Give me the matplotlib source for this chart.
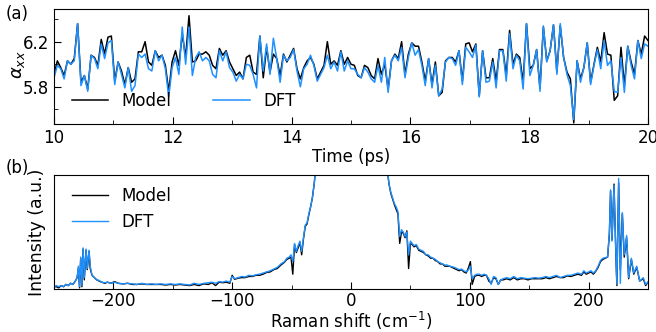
import numpy as np
import matplotlib
matplotlib.use('Agg')
import matplotlib.pyplot as plt
from matplotlib.ticker import MultipleLocator

plt.rcParams['font.family'] = ['DejaVu Sans']
plt.rcParams['font.size'] = 12

BLUE = '#1E90FF'

# -----------------------------
# (a) polarizability time series, 10-20 ps
# -----------------------------
alpha_dft = [
    5.88, 5.99, 5.96, 5.87, 6.03, 6.00, 6.03, 6.36, 5.81, 5.90, 5.76, 6.08, 6.05, 5.96, 6.18,
    6.05, 6.19, 6.21, 5.82, 6.02, 5.91, 5.79, 5.97, 5.76, 5.81, 6.09, 6.06, 6.09, 5.96, 5.94,
    6.12, 6.03, 6.08, 5.96, 5.71, 5.97, 6.06, 5.91, 6.33, 6.00, 6.33, 5.90, 6.06, 6.11,
    6.03, 6.06, 6.03, 5.91, 5.88, 6.12, 6.03, 6.11, 5.97, 5.93, 5.85, 5.91, 5.87, 6.00, 5.99,
    5.91, 5.79, 6.25, 5.94, 6.18, 5.91, 6.23, 6.05, 5.84, 6.08, 6.03, 6.06, 6.13, 5.94, 5.80,
    5.96, 6.00, 6.08, 5.99, 5.85, 5.91, 5.97, 6.08, 5.96, 6.02, 5.94, 6.11, 5.94,
    6.03, 5.96, 5.96, 5.91, 5.88, 5.97, 5.93, 5.87, 5.84, 5.99, 5.84, 6.06, 5.75, 6.03, 6.08,
    6.03, 6.15, 5.88, 6.06, 6.19, 6.08, 6.13, 5.99, 5.81, 6.05, 5.79, 5.99, 5.72, 5.78, 6.02,
    6.06, 6.05, 5.99, 6.12, 5.82, 6.15, 6.11, 6.06, 6.17, 5.71, 6.12, 5.84, 5.85, 6.02, 5.79,
    6.12,
    6.12, 5.85, 6.27, 5.96, 6.08, 6.03, 5.78, 6.36, 5.90, 5.99, 6.13, 5.76, 6.34, 6.02, 6.12,
    6.35, 5.91, 6.36, 6.06, 5.91, 5.81, 5.51, 6.03, 5.84, 5.97, 6.19, 5.82, 5.99, 6.13, 5.96,
    6.21, 5.99, 6.03, 5.76, 5.75, 6.06, 5.75, 6.16, 5.99, 5.87, 6.21, 6.05, 6.18, 6.16,
]
alpha_model = [
    5.91, 6.03, 5.97, 5.90, 6.03, 6.00, 6.05, 6.36, 5.84, 5.90, 5.78, 6.08, 6.06, 5.99, 6.22,
    6.09, 6.24, 6.25, 5.85, 6.02, 5.94, 5.82, 5.97, 5.84, 5.87, 6.11, 6.11, 6.20, 6.02, 5.99,
    6.12, 6.06, 6.08, 5.99, 5.76, 6.02, 6.12, 5.99, 6.27, 6.06, 6.43, 6.02, 6.03, 6.09,
    6.09, 6.11, 6.08, 5.99, 5.96, 6.14, 6.08, 6.12, 6.02, 5.96, 5.90, 5.93, 5.87, 6.06, 6.08,
    5.93, 5.91, 6.25, 5.88, 6.15, 5.93, 6.09, 6.05, 5.90, 6.09, 6.02, 6.08, 6.14, 5.96, 5.87,
    5.97, 6.03, 6.06, 6.00, 5.87, 5.93, 5.99, 6.20, 6.00, 6.03, 5.99, 6.12, 6.00,
    6.06, 6.00, 5.99, 5.90, 5.88, 5.99, 5.97, 5.90, 5.87, 6.05, 5.91, 6.00, 5.78, 6.03, 6.09,
    6.05, 6.20, 5.91, 6.09, 6.19, 6.16, 6.16, 6.02, 5.85, 6.05, 5.82, 6.02, 5.72, 5.75, 6.03,
    6.06, 6.06, 6.02, 6.12, 5.85, 6.18, 6.19, 6.11, 6.18, 5.72, 6.12, 5.88, 5.88, 6.05, 5.85,
    6.13,
    6.13, 5.90, 6.30, 6.00, 6.09, 6.06, 5.84, 6.36, 5.96, 5.99, 6.13, 5.79, 6.33, 6.03, 6.12,
    6.35, 5.93, 6.34, 6.06, 5.93, 5.87, 5.48, 6.03, 5.87, 5.97, 6.19, 5.84, 6.00, 6.15, 6.02,
    6.28, 6.09, 6.08, 5.68, 5.72, 6.15, 5.81, 6.16, 6.02, 5.91, 6.21, 6.09, 6.25, 6.21,
]
time_ps = np.linspace(10, 20, len(alpha_dft))

# -----------------------------
# (b) Raman spectrum
# -----------------------------
shift = [
    -250, -248, -246, -244, -242, -240, -238, -236, -234, -232, -230.5, -229.5, -228.5, -227.5,
    -226.5, -225.5, -224.5, -223, -222, -220.5, -219.5, -218, -216, -214, -212, -210, -207,
    -205, -202, -199, -196, -192, -188, -184, -180, -176, -172, -168, -164, -160, -156, -152,
    -148, -144, -140, -136, -132, -128, -124, -120, -117, -114, -111, -108, -105, -102, -100,
    -98, -95, -92, -89, -86, -83, -80, -77, -74, -71, -68, -65, -62, -59, -56, -54, -52,
    -50.5, -49, -47.5, -46, -44.5, -43, -41.5, -40, -38.5, -37, -35.5, -34, -32.5, -31,
    -29.5, -28, -25, -20, 0, 20, 25, 28.5, 30.5, 32, 33.5, 35, 36.5, 38, 39.5, 41, 42.5, 44,
    45.5, 47, 48.5, 50, 51.5, 53, 55, 57, 59, 61, 63, 65, 67, 69, 71, 73, 75, 77, 79, 81, 83,
    85, 87, 89, 91, 93, 95, 97, 99, 100.5, 102, 104, 106, 108, 110, 112, 114, 116, 118, 120,
    122, 124, 126, 128, 131, 134, 137, 140, 143, 146, 149, 152, 155, 158, 161, 164, 167, 170,
    173, 176, 179, 182, 185, 188, 191, 194, 196, 198, 200, 202, 204, 206, 208, 210, 212, 214,
    216, 217.5, 218.5, 219.7, 221.4, 223, 223.8, 225.3, 226.7, 228.4, 230, 232, 233.7, 236,
    238, 240.5, 243, 246, 248, 250,
]
raman_dft = [
    0.02, 0.03, 0.02, 0.03, 0.02, 0.04, 0.03, 0.05, 0.04, 0.07, 0.10, 0.20, 0.02, 0.28,
    0.03, 0.36, 0.10, 0.35, 0.18, 0.34, 0.20, 0.12, 0.10, 0.08, 0.075, 0.06, 0.055,
    0.06, 0.05, 0.06, 0.05, 0.045, 0.05, 0.045, 0.04, 0.05, 0.04, 0.045, 0.04, 0.045, 0.04, 0.045,
    0.04, 0.045, 0.04, 0.035, 0.05, 0.04, 0.05, 0.055, 0.06, 0.05, 0.065, 0.06, 0.07, 0.06, 0.11,
    0.09, 0.10, 0.11, 0.105, 0.12, 0.115, 0.125, 0.13, 0.14, 0.15, 0.16, 0.175, 0.19, 0.22, 0.24, 0.27, 0.28,
    0.30, 0.24, 0.40, 0.33, 0.38, 0.42, 0.33, 0.45, 0.56, 0.58, 0.66, 0.72, 0.80, 0.92,
    1.08, 1.3, 1.8, 3.0, 6.0, 3.0, 1.8, 1.25, 1.05, 0.92, 0.85, 0.80, 0.75, 0.72, 0.68, 0.46, 0.52, 0.50,
    0.46, 0.50, 0.30, 0.42, 0.40, 0.38, 0.39, 0.35, 0.34, 0.33, 0.30, 0.30, 0.28, 0.27, 0.26, 0.24, 0.23, 0.22, 0.21, 0.21, 0.20,
    0.195, 0.19, 0.18, 0.17, 0.175, 0.16, 0.15, 0.17, 0.20, 0.09, 0.12, 0.13, 0.13, 0.12, 0.13, 0.12, 0.09, 0.04, 0.11,
    0.10, 0.04, 0.08, 0.09, 0.10, 0.09, 0.11, 0.09, 0.10, 0.095, 0.09, 0.095, 0.10, 0.095, 0.10, 0.11, 0.10, 0.11,
    0.12, 0.10, 0.11, 0.12, 0.12, 0.13, 0.14, 0.13, 0.16, 0.14, 0.15, 0.16, 0.14, 0.16, 0.20, 0.25, 0.27, 0.275,
    0.28, 0.50, 0.87, 0.42, 0.91, 0.30, 0.04, 0.97, 0.05, 0.67, 0.30, 0.47, 0.10, 0.27,
    0.14, 0.20, 0.07, 0.10, 0.04, 0.06,
]
raman_model = [
    0.02, 0.02, 0.01, 0.03, 0.02, 0.04, 0.03, 0.05, 0.04, 0.07, 0.10, 0.18, 0.01, 0.27,
    0.02, 0.35, 0.08, 0.34, 0.17, 0.33, 0.18, 0.12, 0.10, 0.08, 0.07, 0.06, 0.05,
    0.06, 0.05, 0.065, 0.05, 0.045, 0.05, 0.04, 0.04, 0.045, 0.04, 0.04, 0.04, 0.04, 0.035, 0.04,
    0.035, 0.04, 0.035, 0.03, 0.04, 0.03, 0.045, 0.04, 0.055, 0.03, 0.06, 0.055, 0.06, 0.05, 0.12,
    0.085, 0.095, 0.10, 0.10, 0.11, 0.11, 0.12, 0.12, 0.13, 0.145, 0.15, 0.17, 0.18, 0.21, 0.235, 0.26, 0.27,
    0.28, 0.13, 0.39, 0.32, 0.36, 0.41, 0.30, 0.44, 0.55, 0.57, 0.65, 0.72, 0.80, 0.92,
    1.08, 1.3, 1.8, 3.0, 6.0, 3.0, 1.8, 1.25, 1.05, 0.92, 0.84, 0.79, 0.74, 0.70, 0.66, 0.40, 0.50, 0.49,
    0.45, 0.51, 0.18, 0.40, 0.39, 0.37, 0.38, 0.34, 0.33, 0.32, 0.30, 0.29, 0.27, 0.27, 0.25, 0.24, 0.22, 0.22, 0.20, 0.20, 0.20,
    0.19, 0.18, 0.17, 0.16, 0.17, 0.15, 0.14, 0.19, 0.24, 0.04, 0.11, 0.12, 0.12, 0.11, 0.12, 0.12, 0.07, 0.05, 0.10,
    0.09, 0.04, 0.08, 0.08, 0.09, 0.08, 0.10, 0.08, 0.09, 0.09, 0.08, 0.09, 0.09, 0.09, 0.09, 0.10, 0.09, 0.10,
    0.11, 0.10, 0.10, 0.115, 0.11, 0.12, 0.13, 0.12, 0.15, 0.13, 0.14, 0.15, 0.13, 0.155, 0.19, 0.24, 0.26, 0.27,
    0.28, 0.48, 0.86, 0.43, 0.92, 0.28, 0.03, 0.93, 0.17, 0.66, 0.28, 0.45, 0.09, 0.26,
    0.13, 0.19, 0.07, 0.09, 0.03, 0.06,
]

fig = plt.figure(figsize=(6.56, 3.32), dpi=100)
ax1 = fig.add_axes([0.0823, 0.6265, 0.9055, 0.3465])
ax2 = fig.add_axes([0.0823, 0.1295, 0.9055, 0.3435])

# --- panel (a)
ax1.plot(time_ps, alpha_model, color='black', lw=1.1, label='Model')
ax1.plot(time_ps, alpha_dft, color=BLUE, lw=1.1, label='DFT')
ax1.set_xlim(10, 20)
ax1.set_ylim(5.47, 6.49)
ax1.xaxis.set_major_locator(MultipleLocator(2))
ax1.xaxis.set_minor_locator(MultipleLocator(1))
ax1.yaxis.set_minor_locator(MultipleLocator(0.2))
ax1.set_yticks([5.8, 6.2])
ax1.set_yticklabels(['5.8', '6.2'])
ax1.tick_params(which='both', direction='in')
ax1.tick_params(which='major', length=5)
ax1.tick_params(which='minor', length=3)
ax1.set_xlabel('Time (ps)', labelpad=1)
ax1.set_ylabel(r'$\alpha_{xx}$', fontsize=13)
ax1.yaxis.set_label_coords(-0.045, 0.52)
ax1.legend(loc='lower left', ncol=2, frameon=False, handlelength=2.2,
           columnspacing=2.5, borderaxespad=0.3, bbox_to_anchor=(0.01, 0.02))
fig.text(0.008, 0.985, '(a)', ha='left', va='top', fontsize=12)

# --- panel (b)
ax2.plot(shift, raman_model, color='black', lw=1.0, label='Model')
ax2.plot(shift, raman_dft, color=BLUE, lw=1.0, label='DFT')
ax2.set_xlim(-250, 250)
ax2.set_ylim(0, 1.0)
ax2.set_yticks([])
ax2.xaxis.set_major_locator(MultipleLocator(100))
ax2.xaxis.set_minor_locator(MultipleLocator(50))
ax2.tick_params(which='both', direction='in', pad=2)
ax2.tick_params(which='major', length=5)
ax2.tick_params(which='minor', length=3)
ax2.set_xlabel(r'Raman shift (cm$^{-1}$)', labelpad=0)
ax2.set_ylabel('Intensity (a.u.)', fontsize=12.5)
ax2.yaxis.set_label_coords(-0.014, 0.5)
ax2.legend(loc='upper left', frameon=False, handlelength=2.2, borderaxespad=0.3,
           bbox_to_anchor=(0.01, 1.0))
fig.text(0.008, 0.52, '(b)', ha='left', va='top', fontsize=12)

fig.savefig('out.png', dpi=100)
